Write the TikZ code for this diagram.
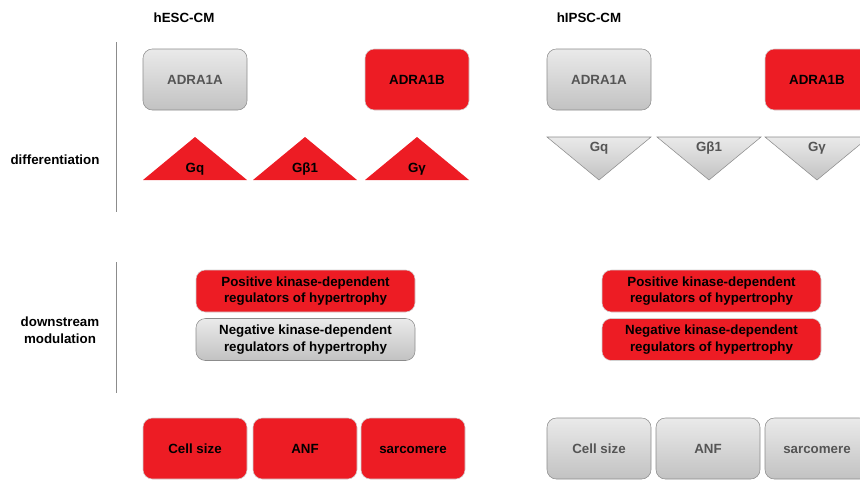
\documentclass[tikz,border=0pt]{standalone}
\usepackage{fontspec}
\setmainfont{Liberation Sans}
\usetikzlibrary{positioning}

\definecolor{hred}{HTML}{ED1C24}
\definecolor{htext}{HTML}{555555}
\definecolor{hborder}{HTML}{8C8C8C}
\definecolor{gtop}{HTML}{EAEAEA}
\definecolor{gbot}{HTML}{C2C2C2}

\tikzset{
  label/.style={font=\fontsize{10}{12.6}\selectfont\bfseries, align=center, inner sep=0pt},
  oneline/.style={label, text height=0.72em, text depth=0pt},
  box/.style={rounded corners=7pt, minimum width=78pt, minimum height=45.75pt},
  redbox/.style={box, fill=hred, draw=hborder!40, text=black},
  graybox/.style={box, draw=hborder, top color=gtop, bottom color=gbot, text=htext},
  widebox/.style={label, minimum width=164.25pt, minimum height=31.5pt},
}

\begin{document}
\begin{tikzpicture}[x=0.75pt,y=-0.75pt]
    \clip (0,0) rectangle (860,479);

    % Headings
    \node[oneline] (esc) at (184,18) {hESC-CM};
    \node[oneline] (ipsc) at (589,18) {hIPSC-CM};

    % Row labels and separators
    \node[oneline] (diff) at (55,160) {differentiation};
    \node[label] (down) at (60,330) {downstream\\modulation};
    \draw[hborder] (116,42) -- (116,212);
    \draw[hborder] (116,262) -- (116,393);

    % Receptors
    \node[oneline, graybox] (esc-a) at (195,79.5) {ADRA1A};
    \node[oneline, redbox] (esc-b) at (417,79.5) {ADRA1B};
    \node[oneline, graybox] (ipsc-a) at (599,79.5) {ADRA1A};
    \node[oneline, redbox] (ipsc-b) at (817,79.5) {ADRA1B};

    % G proteins, up in hESC-CM
    \foreach \x/\n/\t in {195/gq/Gq, 305/gb/Gβ1, 417/gg/Gγ} {
        \fill[hred] (\x-52,180) -- (\x,137) -- (\x+52,180) -- cycle;
        \node[oneline] (esc-\n) at (\x,168) {\t};
    }

    % G proteins, down in hIPSC-CM
    \foreach \x/\n/\t in {599/gq/Gq, 709/gb/Gβ1, 817/gg/Gγ} {
        \draw[hborder, top color=gtop, bottom color=gbot] (\x-52,137) -- (\x+52,137) -- (\x,180) -- cycle;
        \node[oneline, text=htext] (ipsc-\n) at (\x,147) {\t};
    }

    % Kinase-dependent regulators
    \node[redbox, widebox] (esc-pos) at (305.5,291) {Positive kinase-dependent\\regulators of hypertrophy};
    \node[graybox, widebox, text=black] (esc-neg) at (305.5,339.5) {Negative kinase-dependent\\regulators of hypertrophy};
    \node[redbox, widebox] (ipsc-pos) at (711.5,291) {Positive kinase-dependent\\regulators of hypertrophy};
    \node[redbox, widebox] (ipsc-neg) at (711.5,339.5) {Negative kinase-dependent\\regulators of hypertrophy};

    % Hypertrophy markers
    \node[oneline, redbox] (esc-size) at (195,448.5) {Cell size};
    \node[oneline, redbox] (esc-anf) at (305,448.5) {ANF};
    \node[oneline, redbox] (esc-sarc) at (413,448.5) {sarcomere};
    \node[oneline, graybox] (ipsc-size) at (599,448.5) {Cell size};
    \node[oneline, graybox] (ipsc-anf) at (708,448.5) {ANF};
    \node[oneline, graybox] (ipsc-sarc) at (817,448.5) {sarcomere};
\end{tikzpicture}
\end{document}
